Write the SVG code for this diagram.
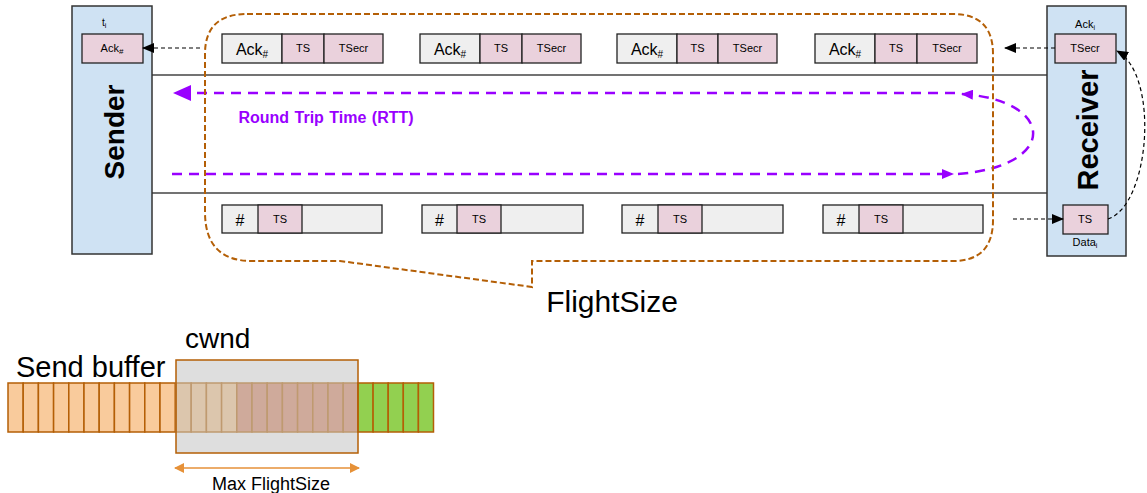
<svg xmlns="http://www.w3.org/2000/svg" width="1147" height="493" viewBox="0 0 1147 493">
  <style>
    text { font-family: "Liberation Sans", Arial, sans-serif; fill: #000; }
    .host { fill: #cfe2f3; stroke: #333; stroke-width: 1.5; }
    .cell-g { fill: #efefef; stroke: #222; stroke-width: 1.3; }
    .cell-p { fill: #ead1dc; stroke: #222; stroke-width: 1.3; }
    .sep { stroke: #444; stroke-width: 1.5; fill: none; }
    .ctl { stroke: #000; stroke-width: 1.2; stroke-dasharray: 4 3; fill: none; }
    .rtt { stroke: #9900ff; stroke-width: 2.5; stroke-dasharray: 10 7; fill: none; }
    .fs { stroke: #b45f06; stroke-width: 2; stroke-dasharray: 6 3; fill: none; }
    .buf { stroke: #b45f06; stroke-width: 1.5; }
    .orange { fill: #f9cb9c; }
    .green { fill: #92d050; }
    .tan { fill: #dcc6ad; stroke: #bf9a70; stroke-width: 1.5; }
    .dark { fill: #cfaa9b; stroke: #bf9a70; stroke-width: 1.5; }
    .big { font-size: 16px; }
    .sm { font-size: 11px; }
    .c { text-anchor: middle; }
  </style>
  <defs>
    <marker id="ah" markerUnits="userSpaceOnUse" markerWidth="12" markerHeight="10" refX="11" refY="5" orient="auto">
      <path d="M0,0 L12,5 L0,10 Z" fill="#000"/>
    </marker>
    <marker id="ahp" markerUnits="userSpaceOnUse" markerWidth="18" markerHeight="16" refX="17" refY="8" orient="auto">
      <path d="M0,0 L18,8 L0,16 Z" fill="#9900ff"/>
    </marker>
    <marker id="ahps" markerUnits="userSpaceOnUse" markerWidth="12" markerHeight="10" refX="11" refY="5" orient="auto">
      <path d="M0,0 L12,5 L0,10 Z" fill="#9900ff"/>
    </marker>
    <marker id="aho" markerUnits="userSpaceOnUse" markerWidth="10" markerHeight="10" refX="9" refY="5" orient="auto-start-reverse">
      <path d="M0,0 L10,5 L0,10 Z" fill="#e69138"/>
    </marker>
  </defs>

  <!-- channel separators -->
  <g id="channel">
    <line class="sep" x1="152" y1="75" x2="1047" y2="75"/>
    <line class="sep" x1="152" y1="193" x2="1047" y2="193"/>
  </g>

  <!-- sender host -->
  <g id="sender">
    <rect class="host" x="72" y="6" width="80" height="248"/>
    <text x="102" y="26" font-size="10">t<tspan font-size="7" dy="2">i</tspan></text>
    <rect class="cell-p" x="82" y="34" width="61" height="29"/>
    <text class="c sm" x="112" y="52">Ack<tspan font-size="8" dy="2">#</tspan></text>
    <text x="124" y="132" font-size="28" font-weight="bold" text-anchor="middle" transform="rotate(-90 124 132)">Sender</text>
  </g>

  <!-- receiver host -->
  <g id="receiver">
    <rect class="host" x="1047" y="6" width="79" height="250"/>
    <text class="c sm" x="1085" y="28">Ack<tspan font-size="7" dy="2">i</tspan></text>
    <rect class="cell-p" x="1055" y="34" width="61" height="29"/>
    <text class="c sm" x="1085" y="52">TSecr</text>
    <rect class="cell-p" x="1063" y="205" width="45" height="29"/>
    <text class="c sm" x="1085" y="223">TS</text>
    <text class="c sm" x="1085" y="246">Data<tspan font-size="7" dy="2">i</tspan></text>
    <text x="1098" y="130" font-size="29" font-weight="bold" text-anchor="middle" transform="rotate(-90 1098 130)">Receiver</text>
  </g>

  <!-- acknowledgement segments -->
  <g id="ack1">
    <rect class="cell-g" x="222" y="34" width="60" height="29"/>
    <rect class="cell-p" x="282" y="34" width="42" height="29"/>
    <rect class="cell-p" x="324" y="34" width="59" height="29"/>
    <text class="c big" x="252" y="55">Ack<tspan font-size="10" dy="3">#</tspan></text>
    <text class="c sm" x="303" y="52">TS</text>
    <text class="c sm" x="353.5" y="52">TSecr</text>
  </g>
  <g id="ack2">
    <rect class="cell-g" x="420" y="34" width="60" height="29"/>
    <rect class="cell-p" x="480" y="34" width="42" height="29"/>
    <rect class="cell-p" x="522" y="34" width="59" height="29"/>
    <text class="c big" x="450" y="55">Ack<tspan font-size="10" dy="3">#</tspan></text>
    <text class="c sm" x="501" y="52">TS</text>
    <text class="c sm" x="551.5" y="52">TSecr</text>
  </g>
  <g id="ack3">
    <rect class="cell-g" x="617" y="34" width="60" height="29"/>
    <rect class="cell-p" x="677" y="34" width="41" height="29"/>
    <rect class="cell-p" x="718" y="34" width="59" height="29"/>
    <text class="c big" x="647" y="55">Ack<tspan font-size="10" dy="3">#</tspan></text>
    <text class="c sm" x="697.5" y="52">TS</text>
    <text class="c sm" x="747.5" y="52">TSecr</text>
  </g>
  <g id="ack4">
    <rect class="cell-g" x="815" y="34" width="60" height="29"/>
    <rect class="cell-p" x="875" y="34" width="42" height="29"/>
    <rect class="cell-p" x="917" y="34" width="60" height="29"/>
    <text class="c big" x="845" y="55">Ack<tspan font-size="10" dy="3">#</tspan></text>
    <text class="c sm" x="896" y="52">TS</text>
    <text class="c sm" x="947" y="52">TSecr</text>
  </g>

  <!-- data segments -->
  <g id="data1">
    <rect class="cell-g" x="222" y="205" width="160" height="28"/>
    <rect class="cell-p" x="258" y="205" width="44" height="28"/>
    <text class="c big" x="240" y="226">#</text>
    <text class="c sm" x="280" y="223">TS</text>
  </g>
  <g id="data2">
    <rect class="cell-g" x="422" y="205" width="161" height="28"/>
    <rect class="cell-p" x="457" y="205" width="44" height="28"/>
    <text class="c big" x="439.5" y="226">#</text>
    <text class="c sm" x="479" y="223">TS</text>
  </g>
  <g id="data3">
    <rect class="cell-g" x="622" y="205" width="161" height="28"/>
    <rect class="cell-p" x="658" y="205" width="44" height="28"/>
    <text class="c big" x="640" y="226">#</text>
    <text class="c sm" x="680" y="223">TS</text>
  </g>
  <g id="data4">
    <rect class="cell-g" x="823" y="205" width="160" height="28"/>
    <rect class="cell-p" x="859" y="205" width="44" height="28"/>
    <text class="c big" x="841" y="226">#</text>
    <text class="c sm" x="881" y="223">TS</text>
  </g>

  <!-- round trip time loop -->
  <g id="rtt">
    <path class="rtt" d="M955,93 H174" marker-end="url(#ahp)"/>
    <path class="rtt" d="M172,174 H953" marker-end="url(#ahps)"/>
    <path class="rtt" d="M958,174 C1060,166 1055,100 962,94" marker-end="url(#ahps)"/>
    <text x="326" y="123" font-size="16" font-weight="bold" text-anchor="middle" style="fill:#9900ff" word-spacing="1">Round Trip Time (RTT)</text>
  </g>

  <!-- connectors -->
  <g id="connectors">
    <path class="ctl" d="M200,48 H143" marker-end="url(#ah)"/>
    <path class="ctl" d="M1055,48 H1005" marker-end="url(#ah)"/>
    <path class="ctl" d="M1013,219 H1063" marker-end="url(#ah)"/>
    <path class="ctl" d="M1108,219 C1150,205 1160,75 1117,51" marker-end="url(#ah)"/>
  </g>

  <!-- flight size callout -->
  <g id="flightsize">
    <path class="fs" d="M247,14 H953 Q993,14 993,54 V220 Q993,261 953,261 H532 V287 L340,261 H252 Q205,261 205,212 V54 Q205,14 247,14 Z"/>
    <text x="612" y="312" font-size="30" text-anchor="middle">FlightSize</text>
  </g>

  <!-- send buffer with congestion window -->
  <g id="send-buffer">
    <text x="16" y="377" font-size="29">Send buffer</text>
    <text x="185" y="348" font-size="28">cwnd</text>
    <rect x="176" y="360" width="182" height="93" fill="#dedede"/>
    <g class="buf orange">
      <rect x="8" y="383" width="15.2" height="49"/>
      <rect x="23.2" y="383" width="15.2" height="49"/>
      <rect x="38.4" y="383" width="15.2" height="49"/>
      <rect x="53.6" y="383" width="15.2" height="49"/>
      <rect x="68.8" y="383" width="15.2" height="49"/>
      <rect x="84" y="383" width="15.2" height="49"/>
      <rect x="99.2" y="383" width="15.2" height="49"/>
      <rect x="114.4" y="383" width="15.2" height="49"/>
      <rect x="129.6" y="383" width="15.2" height="49"/>
      <rect x="144.8" y="383" width="15.2" height="49"/>
      <rect x="160" y="383" width="15.2" height="49"/>
    </g>
    <g class="tan">
      <rect x="176" y="383" width="15.2" height="49"/>
      <rect x="191.2" y="383" width="15.2" height="49"/>
      <rect x="206.4" y="383" width="15.2" height="49"/>
      <rect x="221.6" y="383" width="15.2" height="49"/>
    </g>
    <g class="dark">
      <rect x="236.8" y="383" width="15.2" height="49"/>
      <rect x="252" y="383" width="15.2" height="49"/>
      <rect x="267.2" y="383" width="15.2" height="49"/>
      <rect x="282.4" y="383" width="15.2" height="49"/>
      <rect x="297.6" y="383" width="15.2" height="49"/>
      <rect x="312.8" y="383" width="15.2" height="49"/>
      <rect x="328" y="383" width="15.2" height="49"/>
      <rect x="343.2" y="383" width="14.8" height="49"/>
    </g>
    <g class="buf green">
      <rect x="358" y="383" width="15.1" height="49"/>
      <rect x="373.1" y="383" width="15.1" height="49"/>
      <rect x="388.2" y="383" width="15.1" height="49"/>
      <rect x="403.3" y="383" width="15.1" height="49"/>
      <rect x="418.4" y="383" width="15.1" height="49"/>
    </g>
    <rect x="176" y="360" width="182" height="93" fill="none" stroke="#b45f06" stroke-width="1.5"/>
    <path d="M175,468 H359" stroke="#e69138" stroke-width="1.5" marker-start="url(#aho)" marker-end="url(#aho)" fill="none"/>
    <text x="271" y="490" font-size="18" text-anchor="middle">Max FlightSize</text>
  </g>
</svg>
